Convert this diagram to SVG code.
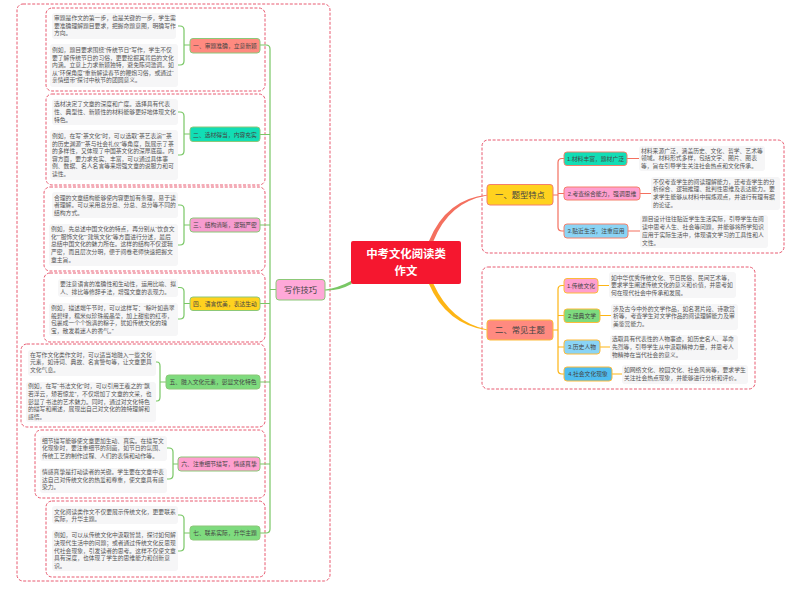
<svg xmlns="http://www.w3.org/2000/svg" width="800" height="601" viewBox="0 0 800 601">
<style>
text{font-family:"Liberation Sans","Noto Sans CJK SC",sans-serif}
.box{fill:#fff;stroke:#E85A70;stroke-width:1;stroke-dasharray:3 1.6}
.bg{fill:#F6F6F7}
.t{font-size:5.8px;fill:#555}
.n{font-size:5.8px;fill:#444;text-anchor:middle}
.big{font-size:8.3px;fill:#444;text-anchor:middle}
.c{font-size:11.4px;font-weight:700;fill:#fff;text-anchor:middle}
.g{fill:none;stroke:#79C765;stroke-width:1.2}
.r{fill:none;stroke:#F4705F;stroke-width:1.2}
.o{fill:none;stroke:#FDB515;stroke-width:1.2}
.ng{stroke:#8CC878;stroke-width:1}
.nr{stroke:#F4806A;stroke-width:1}
.no{stroke:#FDBB3A;stroke-width:1}
</style>
<rect width="800" height="601" fill="#fff"/>
<g id="frames">
<rect class="box" x="17" y="4" width="313" height="577" rx="6"/>
<rect class="box" x="46" y="8" width="219" height="83" rx="6"/>
<rect class="box" x="46" y="94" width="219" height="91" rx="6"/>
<rect class="box" x="44" y="187" width="221" height="84" rx="6"/>
<rect class="box" x="44" y="273" width="221" height="69" rx="6"/>
<rect class="box" x="21" y="344" width="244" height="83" rx="6"/>
<rect class="box" x="35" y="430" width="230" height="68" rx="6"/>
<rect class="box" x="46" y="501" width="219" height="76" rx="6"/>
<rect class="box" x="482" y="140" width="302" height="113" rx="6"/>
<rect class="box" x="482" y="267" width="273" height="122" rx="6"/>
</g>
<g id="connectors">
<path d="M351 281Q338 288 325 289.500L325 290.500Q339 291 351.500 284Z" fill="#79C765"/>
<path d="M429 241Q446 199 487 194.700L487 195.500Q449 202 433.500 241Z" fill="#F4705F"/>
<path d="M429 284Q446 324 487 330.300L487 329.500Q451 322 433.500 284Z" fill="#FDB515"/>
<path class="g" d="M276 289.500H270M260 45H266Q270 45 270 49V529Q270 533 266 533H260M260 134.500H270M260 225H270M260 303.500H270M260 382H270M260 464H270"/>
<path class="g" d="M190 45H184M178 26H180Q184 26 184 30V61Q184 65 180 65H178"/>
<path class="g" d="M190 134H184M178 112H180Q184 112 184 116V151Q184 155 180 155H178"/>
<path class="g" d="M190 225H184M178 205H180Q184 205 184 209V241Q184 245 180 245H178"/>
<path class="g" d="M190 303.500H184M178 287.500H180Q184 287.500 184 291.500V315Q184 319 180 319H178"/>
<path class="g" d="M166 382H160M155 362H157Q160 362 160 366V397Q160 401 157 401H155"/>
<path class="g" d="M178 464H173M167 448H169Q173 448 173 452V475Q173 479 169 479H167"/>
<path class="g" d="M190 533H184M178 515H180Q184 515 184 519V547Q184 551 180 551H178"/>
<path class="r" d="M553 195H558M564 158.500H562Q558 158.500 558 162.500V227Q558 231 562 231H564M558 193.500H564M627 158.500H639M640 193.500H651M628 231H640"/>
<path class="o" d="M553 330H558M564 285.500H562Q558 285.500 558 289.500V370Q558 374 562 374H564M558 315.500H564M558 347H564M598 285.500H609M600 315.500H611M600 347H610M612 374H622"/>
</g>
<g id="center"><rect x="351" y="241" width="110" height="43" rx="2" fill="#F5172F"/><text class="c" x="406" y="258">中考文化阅读类</text><text class="c" x="406" y="275">作文</text></g>
<g id="skills"><rect class="ng" x="276" y="279.500" width="49" height="20.500" rx="3" fill="#FFA8D8"/><text class="big" x="300.500" y="293">写作技巧</text></g>
<g id="s1"><rect class="ng" x="190" y="38.500" width="70" height="14.500" rx="3" fill="#FF8A80"/><text class="n" x="225" y="48">一、审题准确，立意新颖</text>
<rect class="bg" x="52" y="13" width="124" height="26" rx="3"/><rect class="bg" x="50" y="44" width="128" height="43" rx="3"/>
<text class="t"><tspan x="54" y="20">审题是作文的第一步，也是关键的一步，学生需</tspan><tspan x="54" y="27.500">要准确理解题目要求，把握命题意图，明确写作</tspan><tspan x="54" y="35.300">方向。</tspan><tspan x="52" y="52">例如，题目要求围绕“传统节日”写作，学生不仅</tspan><tspan x="52" y="59.500">要了解传统节日的习俗，更要挖掘其背后的文化</tspan><tspan x="52" y="67">内涵。立意上力求新颖独特，避免陈词滥调。如</tspan><tspan x="52" y="74.700">从“环保角度”重新解读春节的鞭炮习俗，或通过“</tspan><tspan x="52" y="82.300">亲情纽带”探讨中秋节的团圆意义。</tspan></text></g>
<g id="s2"><rect class="ng" x="190" y="127" width="70" height="14.500" rx="3" fill="#12DDB5"/><text class="n" x="225" y="136.500">二、选材得当，内容充实</text>
<rect class="bg" x="52" y="99" width="126" height="26" rx="3"/><rect class="bg" x="50" y="130" width="128" height="50" rx="3"/>
<text class="t"><tspan x="54" y="106.300">选材决定了文章的深度和广度。选择具有代表</tspan><tspan x="54" y="114">性、典型性、新颖性的材料能够更好地体现文化</tspan><tspan x="54" y="121.700">特色。</tspan><tspan x="52" y="138">例如，在写“茶文化”时，可以选取“茶艺表演”“茶</tspan><tspan x="52" y="145.700">的历史渊源”“茶与社会礼仪”等角度，既展示了茶</tspan><tspan x="52" y="153">的多样性，又体现了中国茶文化的深厚底蕴。内</tspan><tspan x="52" y="160.700">容方面，要力求充实、丰富，可以通过具体事</tspan><tspan x="52" y="168">例、数据、名人名言等来增强文章的说服力和可</tspan><tspan x="52" y="175.700">读性。</tspan></text></g>
<g id="s3"><rect class="ng" x="190" y="218" width="70" height="14" rx="3" fill="#F79CD0"/><text class="n" x="225" y="227">三、结构清晰，逻辑严密</text>
<rect class="bg" x="52" y="192" width="126" height="26" rx="3"/><rect class="bg" x="49" y="224" width="129" height="42" rx="3"/>
<text class="t"><tspan x="54" y="199.700">合理的文章结构能够使内容更加有条理，易于读</tspan><tspan x="54" y="207.300">者理解。可以采用总分总、分总、总分等不同的</tspan><tspan x="54" y="215">结构方式。</tspan><tspan x="51" y="231.300">例如，先总述中国文化的特点，再分别从“饮食文</tspan><tspan x="51" y="239">化”“服饰文化”“建筑文化”等方面进行分述，最后</tspan><tspan x="51" y="246.300">总结中国文化的魅力所在。这样的结构不仅逻辑</tspan><tspan x="51" y="254">严密，而且层次分明，便于阅卷老师快速把握文</tspan><tspan x="51" y="261.700">章主旨。</tspan></text></g>
<g id="s4"><rect class="ng" x="190" y="297" width="70" height="13.500" rx="3" fill="#FFD21F"/><text class="n" x="225" y="306">四、语言优美，表达生动</text>
<rect class="bg" x="58" y="279" width="120" height="18" rx="3"/><rect class="bg" x="49" y="303" width="129" height="33" rx="3"/>
<text class="t"><tspan x="60" y="286">要注意语言的准确性和生动性，运用比喻、拟</tspan><tspan x="60" y="293.700">人、排比等修辞手法，增强文章的表现力。</tspan><tspan x="51" y="310">例如，描述端午节时，可以这样写：“粽叶如翡翠</tspan><tspan x="51" y="317.700">般碧绿，糯米似珍珠般晶莹，加上甜蜜的红枣，</tspan><tspan x="51" y="325.300">包裹成一个个饱满的粽子，犹如传统文化的瑰</tspan><tspan x="51" y="332.700">宝，散发着迷人的香气。”</tspan></text></g>
<g id="s5"><rect class="ng" x="166" y="375" width="94" height="14" rx="3" fill="#7EDB7E"/><text class="n" x="213" y="384">五、融入文化元素，彰显文化特色</text>
<rect class="bg" x="28" y="350" width="128" height="26" rx="3"/><rect class="bg" x="26" y="382" width="130" height="40" rx="3"/>
<text class="t"><tspan x="30" y="356.700">在写作文化类作文时，可以适当地融入一些文化</tspan><tspan x="30" y="364.300">元素，如诗词、典故、名言警句等，让文章更具</tspan><tspan x="30" y="372">文化气息。</tspan><tspan x="28" y="388.300">例如，在写“书法文化”时，可以引用王羲之的“飘</tspan><tspan x="28" y="396">若浮云，矫若惊龙”，不仅增加了文章的文采，也</tspan><tspan x="28" y="403.700">彰显了书法的艺术魅力。同时，通过对文化特色</tspan><tspan x="28" y="411">的描写和阐述，展现出自己对文化的独特理解和</tspan><tspan x="28" y="418.700">感悟。</tspan></text></g>
<g id="s6"><rect class="ng" x="178" y="457" width="82" height="14" rx="3" fill="#FF9FCF"/><text class="n" x="219" y="466">六、注重细节描写，情感真挚</text>
<rect class="bg" x="40" y="436" width="127" height="25" rx="3"/><rect class="bg" x="40" y="468" width="127" height="25" rx="3"/>
<text class="t"><tspan x="42" y="442.700">细节描写能够使文章更加生动、真实。在描写文</tspan><tspan x="42" y="450.300">化现象时，要注重细节的刻画，如节日的氛围、</tspan><tspan x="42" y="457.700">传统工艺的制作过程、人们的表情和动作等。</tspan><tspan x="42" y="474.300">情感真挚是打动读者的关键。学生要在文章中表</tspan><tspan x="42" y="482">达自己对传统文化的热爱和尊重，使文章具有感</tspan><tspan x="42" y="489.300">染力。</tspan></text></g>
<g id="s7"><rect class="ng" x="190" y="526" width="70" height="14" rx="3" fill="#7EDB7E"/><text class="n" x="225" y="535">七、联系实际，升华主题</text>
<rect class="bg" x="52" y="506" width="126" height="18" rx="3"/><rect class="bg" x="52" y="530" width="126" height="41" rx="3"/>
<text class="t"><tspan x="54" y="513.700">文化阅读类作文不仅要展示传统文化，更要联系</tspan><tspan x="54" y="521.300">实际，升华主题。</tspan><tspan x="54" y="537.300">例如，可以从传统文化中汲取智慧，探讨如何解</tspan><tspan x="54" y="545">决现代生活中的问题；或者通过传统文化反思现</tspan><tspan x="54" y="552.700">代社会现象，引发读者的思考。这样不仅使文章</tspan><tspan x="54" y="560.300">具有深度，也体现了学生的思维能力和创新意</tspan><tspan x="54" y="567.700">识。</tspan></text></g>
<g id="a"><rect class="nr" x="487" y="184.500" width="66" height="20.500" rx="3" fill="#FFD21F"/><text class="big" x="520" y="198">一、题型特点</text></g>
<g id="a1"><rect class="nr" x="564" y="152" width="63" height="13.500" rx="3" fill="#12DDB5"/><text class="n" x="595.500" y="161">1.材料丰富，题材广泛</text>
<rect class="bg" x="639" y="146" width="126" height="25" rx="3"/>
<text class="t"><tspan x="641" y="152.700">材料来源广泛，涵盖历史、文化、哲学、艺术等</tspan><tspan x="641" y="160.300">领域。材料形式多样，包括文字、图片、图表</tspan><tspan x="641" y="168">等，旨在引导学生关注社会热点和文化传承。</tspan></text></g>
<g id="a2"><rect class="nr" x="564" y="187" width="76" height="13" rx="3" fill="#FF9FCF"/><text class="n" x="602" y="195.700">2.考查综合能力，强调思维</text>
<rect class="bg" x="651" y="177" width="129" height="33" rx="3"/>
<text class="t"><tspan x="653" y="183.700">不仅考查学生的阅读理解能力，还考查学生的分</tspan><tspan x="653" y="191.300">析综合、逻辑推理、批判性思维及表达能力。要</tspan><tspan x="653" y="199">求学生能够从材料中提炼观点，并进行有理有据</tspan><tspan x="653" y="206.700">的论证。</tspan></text></g>
<g id="a3"><rect class="nr" x="564" y="224" width="64" height="14" rx="3" fill="#8AD4F5"/><text class="n" x="596" y="233">3.贴近生活，注重应用</text>
<rect class="bg" x="640" y="215" width="128" height="33" rx="3"/>
<text class="t"><tspan x="642" y="221.300">题目设计往往贴近学生生活实际，引导学生在阅</tspan><tspan x="642" y="229.300">读中思考人生、社会等问题，并能够将所学知识</tspan><tspan x="642" y="237">应用于实际生活中，体现语文学习的工具性和人</tspan><tspan x="642" y="244.700">文性。</tspan></text></g>
<g id="b"><rect class="no" x="487" y="320" width="66" height="20" rx="3" fill="#FF8A80"/><text class="big" x="520" y="333">二、常见主题</text></g>
<g id="b1"><rect class="no" x="564" y="278.500" width="34" height="14.500" rx="3" fill="#FF9FCF"/><text class="n" x="581" y="288">1.传统文化</text>
<rect class="bg" x="609" y="272" width="127" height="26" rx="3"/>
<text class="t"><tspan x="611" y="279.700">如中华优秀传统文化、节日民俗、民间艺术等，</tspan><tspan x="611" y="287.300">要求学生阐述传统文化的意义和价值，并思考如</tspan><tspan x="611" y="295">何在现代社会中传承和发展。</tspan></text></g>
<g id="b2"><rect class="no" x="564" y="309" width="36" height="13.500" rx="3" fill="#7EDB7E"/><text class="n" x="582" y="318">2.经典文学</text>
<rect class="bg" x="611" y="304" width="127" height="26" rx="3"/>
<text class="t"><tspan x="613" y="310.700">涉及古今中外的文学作品，如名著片段、诗歌赏</tspan><tspan x="613" y="318.300">析等，考查学生对文学作品的阅读理解能力及审</tspan><tspan x="613" y="326">美鉴赏能力。</tspan></text></g>
<g id="b3"><rect class="no" x="564" y="340" width="36" height="14" rx="3" fill="#8AD4F5"/><text class="n" x="582" y="349">3.历史人物</text>
<rect class="bg" x="610" y="335" width="128" height="25" rx="3"/>
<text class="t"><tspan x="612" y="341.300">选取具有代表性的人物事迹，如历史名人、革命</tspan><tspan x="612" y="349">先烈等，引导学生从中汲取精神力量，并思考人</tspan><tspan x="612" y="356.700">物精神在当代社会的意义。</tspan></text></g>
<g id="b4"><rect class="no" x="564" y="367" width="48" height="14" rx="3" fill="#4FBDEF"/><text class="n" x="588" y="376">4.社会文化现象</text>
<rect class="bg" x="622" y="365" width="126" height="19" rx="3"/>
<text class="t"><tspan x="624" y="372.300">如网络文化、校园文化、社会风尚等，要求学生</tspan><tspan x="624" y="380">关注社会热点现象，并能够进行分析和评价。</tspan></text></g>
</svg>
